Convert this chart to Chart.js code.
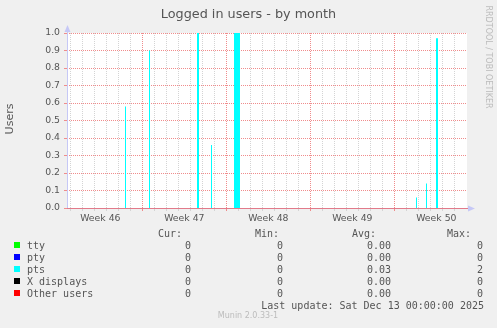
<!DOCTYPE html>
<html>
<head>
<meta charset="utf-8">
<title>Logged in users - by month</title>
<script src="https://cdn.jsdelivr.net/npm/chart.js@4.4.1/dist/chart.umd.min.js"></script>
<style>
  html, body { margin: 0; padding: 0; background: #f0f0f0; }
  #wrap { position: relative; width: 497px; height: 328px; overflow: hidden; font-family: "DejaVu Sans", sans-serif; color: #555; }
  #wrap canvas { position: absolute; left: 0; top: 0; }
  .txt { position: absolute; white-space: pre; line-height: 12px; }
  .mono { font-family: "DejaVu Sans Mono", monospace; }
  .sq { position: absolute; width: 6px; height: 6px; }
</style>
</head>
<body>
<div id="wrap">
  <canvas id="chart" width="497" height="328"></canvas>
</div>
<script>
// time axis in hours from the left edge of the graph (800 h = 400 px)
const spanHours = 800;
const firstMidnight = 20 / 3;
const dayCount = 33;
const weekLineDays = [6, 13, 20, 27];
const weekLabels = ['Week 46', 'Week 47', 'Week 48', 'Week 49', 'Week 50'];
const weekLabelDays = [2.5, 9.5, 16.5, 23.5, 30.5];

// pts samples: start hour, length in hours, users
const ptsStart = [116, 164, 260, 288, 334, 698, 718, 738];
const ptsHours = [2, 2, 4, 2, 12, 2, 2, 4];
const ptsValues = [0.58, 0.9, 1.0, 0.36, 1.0, 0.06, 0.14, 0.97];

const seriesNames = ['tty', 'pty', 'pts', 'X displays', 'Other users'];
const seriesColors = ['#00ff00', '#0000ff', '#00ffff', '#000000', '#ff0000'];
const curValues = ['0', '0', '0', '0', '0'];
const minValues = ['0', '0', '0', '0', '0'];
const avgValues = ['0.00', '0.00', '0.03', '0.00', '0.00'];
const maxValues = ['0', '0', '2', '0', '0'];
const lastUpdate = 'Last update: Sat Dec 13 00:00:00 2025';

const redGrid = '#f08c8c';
const grayGrid = '#d4d4d4';
const axisBlue = '#c6c8f6';
const textColor = '#555';

const dayLines = [];
for (let d = 0; d < dayCount; d++) dayLines.push(firstMidnight + d * 24);
const weekLines = weekLineDays.map(d => firstMidnight + d * 24);
const weekCenters = weekLabelDays.map(d => firstMidnight + d * 24);

function stepPoints(starts, hours, values) {
  const pts = [{ x: 0, y: 0 }];
  starts.forEach((s, i) => {
    pts.push({ x: s, y: values[i] });
    pts.push({ x: s + hours[i], y: 0 });
  });
  pts.push({ x: spanHours, y: 0 });
  return pts;
}

const muninFrame = {
  id: 'muninFrame',
  beforeDraw(chart) {
    const { ctx, chartArea: a } = chart;
    ctx.save();
    ctx.fillStyle = '#f0f0f0';
    ctx.fillRect(0, 0, chart.width, chart.height);
    ctx.fillStyle = '#ffffff';
    ctx.fillRect(a.left, a.top, a.right - a.left, a.bottom - a.top);
    ctx.restore();
  },
  afterDraw(chart) {
    const { ctx, chartArea: a } = chart;
    ctx.save();
    ctx.lineWidth = 1;
    ctx.strokeStyle = axisBlue;
    ctx.beginPath();
    ctx.moveTo(a.left + 0.5, a.bottom);
    ctx.lineTo(a.left + 0.5, a.top - 4);
    ctx.stroke();
    ctx.strokeStyle = '#e27a8a';
    ctx.beginPath();
    ctx.moveTo(a.left, a.bottom + 0.5);
    ctx.lineTo(a.right + 1, a.bottom + 0.5);
    ctx.stroke();
    ctx.fillStyle = axisBlue;
    ctx.beginPath();
    ctx.moveTo(a.left + 0.5, a.top - 8);
    ctx.lineTo(a.left + 3.5, a.top - 1);
    ctx.lineTo(a.left - 2.5, a.top - 1);
    ctx.closePath();
    ctx.fill();
    ctx.beginPath();
    ctx.moveTo(a.right + 8, a.bottom + 0.5);
    ctx.lineTo(a.right + 1, a.bottom - 2.5);
    ctx.lineTo(a.right + 1, a.bottom + 3.5);
    ctx.closePath();
    ctx.fill();
    ctx.restore();
  }
};

new Chart(document.getElementById('chart'), {
  type: 'line',
  data: {
    datasets: [{
      label: 'pts',
      data: stepPoints(ptsStart, ptsHours, ptsValues),
      stepped: true,
      fill: 'origin',
      backgroundColor: seriesColors[2],
      borderWidth: 0,
      pointRadius: 0
    }]
  },
  options: {
    responsive: false,
    animation: false,
    layout: { padding: { left: 0, right: 30, top: 33, bottom: 100 } },
    plugins: {
      legend: { display: false },
      tooltip: { enabled: false },
      title: { display: false }
    },
    scales: {
      x: {
        type: 'linear',
        min: 0,
        max: spanHours,
        weight: 0,
        afterBuildTicks: s => { s.ticks = dayLines.map(v => ({ value: v })); },
        afterFit: s => { s.height = 0; },
        ticks: { display: false },
        grid: {
          color: c => weekLines.some(w => Math.abs(w - c.tick.value) < 0.01) ? redGrid : grayGrid,
          tickLength: 3
        },
        border: { display: false, dash: [1, 1] }
      },
      x2: {
        type: 'linear',
        position: 'bottom',
        min: 0,
        max: spanHours,
        weight: 1,
        afterBuildTicks: s => { s.ticks = weekCenters.map(v => ({ value: v })); },
        afterFit: s => { s.height = 20; },
        grid: { display: false, drawTicks: false },
        border: { display: false },
        ticks: {
          autoSkip: false,
          maxRotation: 0,
          padding: 5,
          color: textColor,
          font: { family: 'DejaVu Sans', size: 9.3 },
          callback: (v, i) => weekLabels[i]
        }
      },
      y: {
        min: 0,
        max: 1,
        afterFit: s => { s.width = 67; },
        ticks: {
          stepSize: 0.1,
          padding: 4,
          color: textColor,
          font: { family: 'DejaVu Sans', size: 9.3 },
          callback: v => v.toFixed(1)
        },
        grid: { color: redGrid, tickLength: 3 },
        border: { display: false, dash: [1, 1] }
      }
    }
  },
  plugins: [muninFrame]
});

// texts around the graph
const wrap = document.getElementById('wrap');

function place(text, x, baseline, size, align, cls) {
  const el = document.createElement('div');
  el.className = 'txt' + (cls ? ' ' + cls : '');
  el.textContent = text;
  el.style.fontSize = size + 'px';
  el.style.top = (baseline - 6 - 0.346 * size) + 'px';
  if (align === 'right') el.style.right = (497 - x) + 'px';
  else if (align === 'center') {
    el.style.left = (x - 200) + 'px';
    el.style.width = '400px';
    el.style.textAlign = 'center';
  } else el.style.left = x + 'px';
  wrap.appendChild(el);
  return el;
}

function rotated(text, cx, cy, size, deg, color) {
  const el = document.createElement('div');
  el.className = 'txt';
  el.textContent = text;
  el.style.fontSize = size + 'px';
  el.style.left = (cx - 100) + 'px';
  el.style.width = '200px';
  el.style.textAlign = 'center';
  el.style.top = (cy - 6) + 'px';
  el.style.transform = 'rotate(' + deg + 'deg)';
  if (color) el.style.color = color;
  wrap.appendChild(el);
}

place('Logged in users - by month', 248.5, 18, 12.8, 'center');
rotated('Users', 10, 119, 11, -90);
rotated('RRDTOOL / TOBI OETIKER', 488, 56.5, 8, 90, '#bcbcbc');

place('Cur:', 158, 237, 10, 'left', 'mono');
place('Min:', 255, 237, 10, 'left', 'mono');
place('Avg:', 352, 237, 10, 'left', 'mono');
place('Max:', 447, 237, 10, 'left', 'mono');

seriesNames.forEach((name, i) => {
  const base = 249 + i * 12;
  const sq = document.createElement('div');
  sq.className = 'sq';
  sq.style.left = '14px';
  sq.style.top = (base - 7) + 'px';
  sq.style.background = seriesColors[i];
  wrap.appendChild(sq);
  place(name, 27, base, 10, 'left', 'mono');
  place(curValues[i], 191, base, 10, 'right', 'mono');
  place(minValues[i], 283, base, 10, 'right', 'mono');
  place(avgValues[i], 391, base, 10, 'right', 'mono');
  place(maxValues[i], 483, base, 10, 'right', 'mono');
});

place(lastUpdate, 484, 309, 10, 'right', 'mono');
const footer = place('Munin 2.0.33-1', 248, 319, 8, 'center');
footer.style.color = '#bcbcbc';
</script>
</body>
</html>
